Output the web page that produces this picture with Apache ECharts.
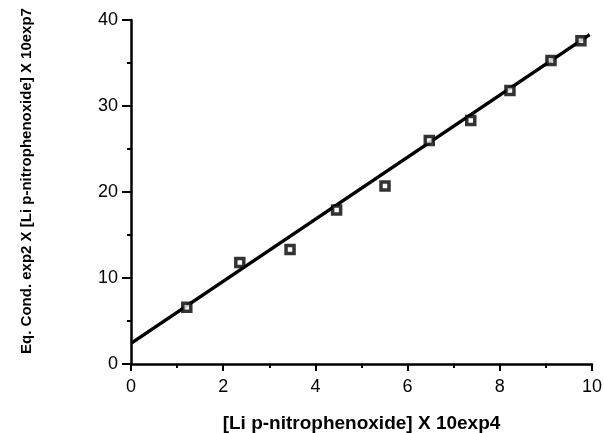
<!DOCTYPE html>
<html>
<head>
<meta charset="utf-8">
<script src="https://cdn.jsdelivr.net/npm/echarts@6/dist/echarts.min.js"></script>
<style>
  html, body { margin: 0; padding: 0; background: #fff; }
  #chart { width: 604px; height: 433px; }
</style>
</head>
<body>
<div id="chart"></div>
<script>
// measured points
const xValues = [1.21, 2.36, 3.45, 4.46, 5.51, 6.47, 7.37, 8.22, 9.11, 9.76];
const yValues = [6.6, 11.8, 13.3, 17.9, 20.7, 26.0, 28.3, 31.8, 35.3, 37.6];
// fitted line ends
const fitX = [0, 9.95];
const fitY = [2.4, 38.3];

const points = xValues.map((x, i) => [x, yValues[i]]);
const fitLine = fitX.map((x, i) => [x, fitY[i]]);

const chart = echarts.init(document.getElementById('chart'));
chart.setOption({
    animation: false,
    backgroundColor: '#fff',
    grid: { left: 131, right: 12, top: 20, bottom: 69, outerBoundsMode: 'none' },
    xAxis: {
        type: 'value',
        min: 0,
        max: 10,
        interval: 2,
        name: '[Li p-nitrophenoxide] X 10exp4',
        nameLocation: 'middle',
        nameGap: 50,
        nameTextStyle: { fontFamily: 'Liberation Sans', fontWeight: 'bold', fontSize: 19, color: '#000' },
        axisLine: { lineStyle: { color: '#000', width: 2.5 } },
        axisTick: { length: 7, lineStyle: { color: '#000', width: 2 } },
        minorTick: { show: true, splitNumber: 2, length: 4, lineStyle: { color: '#000', width: 2 } },
        axisLabel: { fontFamily: 'Liberation Sans', fontSize: 18, color: '#000', margin: 14 },
        splitLine: { show: false }
    },
    yAxis: {
        type: 'value',
        min: 0,
        max: 40,
        interval: 10,
        name: 'Eq. Cond. exp2 X [Li p-nitrophenoxide] X 10exp7',
        nameLocation: 'middle',
        nameGap: 97,
        nameRotate: 90,
        nameTextStyle: { fontFamily: 'Liberation Sans', fontWeight: 'bold', fontSize: 15, color: '#000', padding: [0, 0, 0, 22] },
        axisLine: { show: true, lineStyle: { color: '#000', width: 2.5 } },
        axisTick: { show: true, length: 9, lineStyle: { color: '#000', width: 2 } },
        minorTick: { show: true, splitNumber: 2, length: 4, lineStyle: { color: '#000', width: 2 } },
        axisLabel: { fontFamily: 'Liberation Sans', fontSize: 18, color: '#000', margin: 13 },
        splitLine: { show: false }
    },
    series: [
        {
            type: 'line',
            data: fitLine,
            showSymbol: false,
            lineStyle: { color: '#000', width: 3.5 },
            z: 2
        },
        {
            type: 'scatter',
            data: points,
            symbol: 'rect',
            symbolSize: 8,
            itemStyle: { color: '#fff', borderColor: '#000', borderWidth: 3.5 },
            z: 3
        }
    ]
});
</script>
</body>
</html>
